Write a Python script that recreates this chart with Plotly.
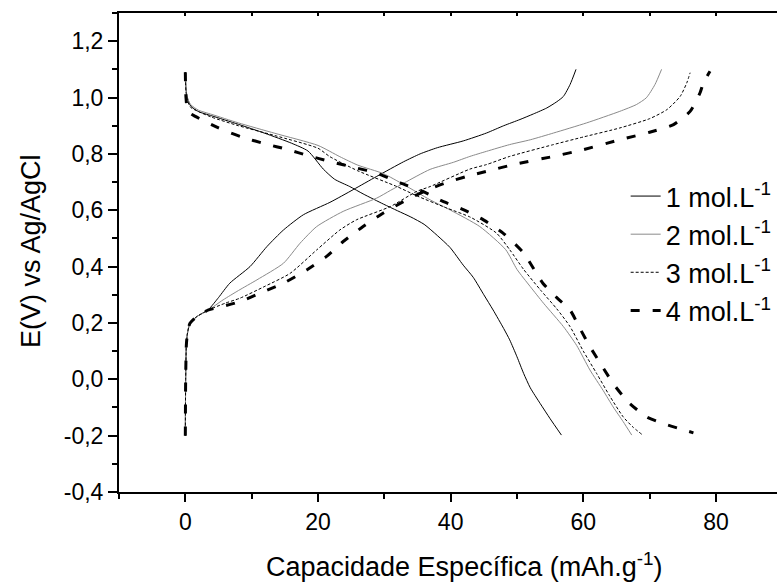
import plotly.graph_objects as go

# ---------------- data ----------------
labels = ["1 mol.L<sup>-1</sup>", "2 mol.L<sup>-1</sup>", "3 mol.L<sup>-1</sup>", "4 mol.L<sup>-1</sup>"]

# charge branches (capacity mAh/g, potential V)
c1_x = [0, 0.05, 0.15, 0.3, 0.7, 1.7, 3.5, 5, 6.7, 9.75, 12.3, 14.8, 17.8, 21.8, 25.3, 28.85, 32.9, 35.4, 38, 41.9, 45.4, 48, 50.45, 52.5, 54.5, 56, 57, 58, 58.9]
c1_y = [-0.2, 0.0, 0.12, 0.16, 0.199, 0.222, 0.248, 0.29, 0.341, 0.4, 0.471, 0.53, 0.584, 0.628, 0.673, 0.72, 0.772, 0.8, 0.822, 0.846, 0.874, 0.9, 0.922, 0.942, 0.963, 0.985, 1.004, 1.046, 1.1]

c2_x = [0, 0.05, 0.15, 0.3, 0.7, 1.7, 3.5, 5.7, 8, 10.8, 14.8, 17.3, 19.8, 23.8, 28.85, 30.9, 33, 36.9, 40.4, 42.9, 45.4, 48.9, 52, 55.5, 60.5, 65.5, 68, 69.5, 70.8, 71.8]
c2_y = [-0.2, 0.0, 0.12, 0.16, 0.199, 0.222, 0.246, 0.282, 0.315, 0.353, 0.412, 0.483, 0.542, 0.596, 0.643, 0.67, 0.697, 0.745, 0.77, 0.791, 0.809, 0.833, 0.85, 0.874, 0.91, 0.951, 0.975, 0.999, 1.046, 1.1]

c3_x = [0, 0.05, 0.15, 0.3, 0.7, 1.7, 3.5, 6, 8.25, 12, 15.8, 19.8, 23.3, 25.8, 30.9, 34.9, 36.9, 42.9, 45.4, 48.9, 55.5, 60, 65.5, 70, 72.6, 74.6, 75.6, 76.1]
c3_y = [-0.2, 0.0, 0.12, 0.16, 0.199, 0.222, 0.246, 0.27, 0.288, 0.33, 0.376, 0.459, 0.53, 0.566, 0.613, 0.667, 0.684, 0.746, 0.762, 0.791, 0.833, 0.86, 0.892, 0.925, 0.957, 1.004, 1.052, 1.088]

c4_x = [0, 0.05, 0.15, 0.3, 0.7, 1.7, 3.5, 5.5, 8.25, 11.5, 14.8, 18.3, 21.3, 23.8, 26.8, 29.85, 32.9, 35.9, 39, 42.4, 45.4, 50, 55.5, 60, 65.5, 70, 73.6, 76.1, 77.6, 78.1, 79.1]
c4_y = [-0.2, 0.0, 0.12, 0.16, 0.199, 0.222, 0.246, 0.258, 0.276, 0.308, 0.341, 0.388, 0.436, 0.489, 0.542, 0.59, 0.631, 0.666, 0.695, 0.72, 0.738, 0.765, 0.791, 0.815, 0.85, 0.877, 0.904, 0.951, 1.017, 1.052, 1.093]

# discharge branches
d1_x = [0, 0.1, 0.3, 0.8, 2, 4, 8, 12, 16, 18.5, 20.8, 22.5, 24.8, 26.8, 29.85, 32, 34, 36, 38, 39.9, 41.9, 43.4, 45, 46.4, 48, 48.9, 50, 51, 52, 53.5, 55, 56.7]
d1_y = [1.09, 1.03, 1.0, 0.97, 0.95, 0.935, 0.905, 0.873, 0.838, 0.81, 0.746, 0.71, 0.684, 0.658, 0.622, 0.598, 0.576, 0.55, 0.51, 0.468, 0.405, 0.362, 0.3, 0.246, 0.18, 0.14, 0.08, 0.021, -0.03, -0.086, -0.14, -0.198]

d2_x = [0, 0.1, 0.3, 0.8, 2, 4, 8, 13.5, 20, 23.3, 26, 29.85, 33, 36.9, 40, 44.4, 48.3, 50, 52, 54, 57, 59, 61, 63, 64.5, 66, 67.3]
d2_y = [1.09, 1.03, 1.0, 0.975, 0.955, 0.94, 0.91, 0.873, 0.83, 0.79, 0.76, 0.73, 0.69, 0.637, 0.6, 0.542, 0.46, 0.39, 0.329, 0.27, 0.187, 0.12, 0.033, -0.04, -0.098, -0.15, -0.198]

d3_x = [0, 0.1, 0.3, 0.8, 2, 4, 8, 13.5, 20, 21.8, 26, 31.9, 35, 39.4, 43, 46.9, 48.9, 51, 53.5, 56, 58, 60, 62, 64, 66, 67.5, 68.8]
d3_y = [1.09, 1.02, 0.99, 0.965, 0.95, 0.93, 0.9, 0.865, 0.82, 0.79, 0.74, 0.684, 0.65, 0.608, 0.575, 0.519, 0.46, 0.39, 0.318, 0.25, 0.187, 0.1, 0.021, -0.06, -0.133, -0.17, -0.195]

d4_x = [0, 0.1, 0.4, 1.5, 5, 8.5, 12, 15.5, 18.5, 21.8, 25.8, 28.85, 32.4, 35.9, 38.5, 41.9, 45, 47.9, 51, 53.9, 56, 58, 59.5, 61, 63, 64.5, 66, 67, 69.5, 72, 74.5, 76.6]
d4_y = [1.09, 1.0, 0.95, 0.933, 0.892, 0.86, 0.836, 0.815, 0.794, 0.773, 0.75, 0.732, 0.697, 0.666, 0.635, 0.602, 0.565, 0.519, 0.448, 0.341, 0.29, 0.246, 0.18, 0.116, 0.04, -0.015, -0.06, -0.086, -0.133, -0.157, -0.175, -0.19]

x_tick_vals = [0, 20, 40, 60, 80]
x_tick_text = ["0", "20", "40", "60", "80"]
y_tick_vals = [-0.4, -0.2, 0.0, 0.2, 0.4, 0.6, 0.8, 1.0, 1.2]
y_tick_text = ["-0,4", "-0,2", "0,0", "0,2", "0,4", "0,6", "0,8", "1,0", "1,2"]

# ---------------- figure ----------------
FONT = "Liberation Sans, Arial, sans-serif"
styles = [
    dict(color="black", width=1, dash="solid"),
    dict(color="#8a8a8a", width=1, dash="solid"),
    dict(color="black", width=1, dash="3px,2px"),
    dict(color="black", width=3, dash="9px,13px"),
]
charges = [(c1_x, c1_y), (c2_x, c2_y), (c3_x, c3_y), (c4_x, c4_y)]
discharges = [(d1_x, d1_y), (d2_x, d2_y), (d3_x, d3_y), (d4_x, d4_y)]

fig = go.Figure()
for lab, st, (cx, cy), (dx, dy) in zip(labels, styles, charges, discharges):
    fig.add_trace(go.Scatter(
        x=list(cx) + [None] + list(dx),
        y=list(cy) + [None] + list(dy),
        mode="lines", name=lab, line=dict(shape="spline", smoothing=0.6, **st),
        connectgaps=False,
    ))

# invisible trace to anchor the top axis
fig.add_trace(go.Scatter(x=[None], y=[None], xaxis="x2", showlegend=False, hoverinfo="skip"))

fig.update_layout(
    width=777, height=583,
    margin=dict(l=119, r=0, t=13, b=91),
    paper_bgcolor="white", plot_bgcolor="white",
    font=dict(family=FONT, color="black"),
    showlegend=True,
    legend=dict(
        x=0.77, y=0.668, xanchor="left", yanchor="top",
        font=dict(size=27, family=FONT, color="black"),
        bgcolor="rgba(0,0,0,0)", borderwidth=0, tracegroupgap=0,
    ),
    xaxis=dict(
        range=[-10, 89.2], showgrid=False, zeroline=False,
        showline=True, linecolor="black", linewidth=2,
        ticks="outside", ticklen=8, tickwidth=2, tickcolor="black",
        tickmode="array", tickvals=x_tick_vals, ticktext=x_tick_text,
        tickfont=dict(size=23, family=FONT, color="black"),
        minor=dict(ticks="outside", ticklen=5, tickwidth=2, tickcolor="black", tickmode="linear", tick0=-10, dtick=10),
    ),
    xaxis2=dict(
        range=[-10, 89.2], overlaying="x", side="top", anchor="y",
        showgrid=False, zeroline=False, showline=True, linecolor="black", linewidth=2,
        ticks="inside", ticklen=3, tickwidth=1.5, tickcolor="black",
        tickmode="linear", tick0=0, dtick=10, showticklabels=False,
    ),
    yaxis=dict(
        range=[-0.4, 1.3], showgrid=False, zeroline=False,
        showline=True, linecolor="black", linewidth=2,
        ticks="outside", ticklen=9, tickwidth=2, tickcolor="black",
        tickmode="array", tickvals=y_tick_vals, ticktext=y_tick_text,
        tickfont=dict(size=23, family=FONT, color="black"),
        minor=dict(ticks="outside", ticklen=5, tickwidth=2, tickcolor="black", tickmode="linear", tick0=-0.4, dtick=0.1),
    ),
    annotations=[
        dict(text="Capacidade Específica (mAh.g<sup>-1</sup>)", xref="paper", yref="paper",
             x=0.525, y=-0.152, xanchor="center", yanchor="middle", showarrow=False,
             font=dict(size=27, family=FONT, color="black")),
        dict(text="E(V) vs Ag/AgCl", xref="paper", yref="paper",
             x=-0.1337, y=0.503, xanchor="center", yanchor="middle", textangle=-90, showarrow=False,
             font=dict(size=27, family=FONT, color="black")),
    ],
)

fig.write_html("out.html")
